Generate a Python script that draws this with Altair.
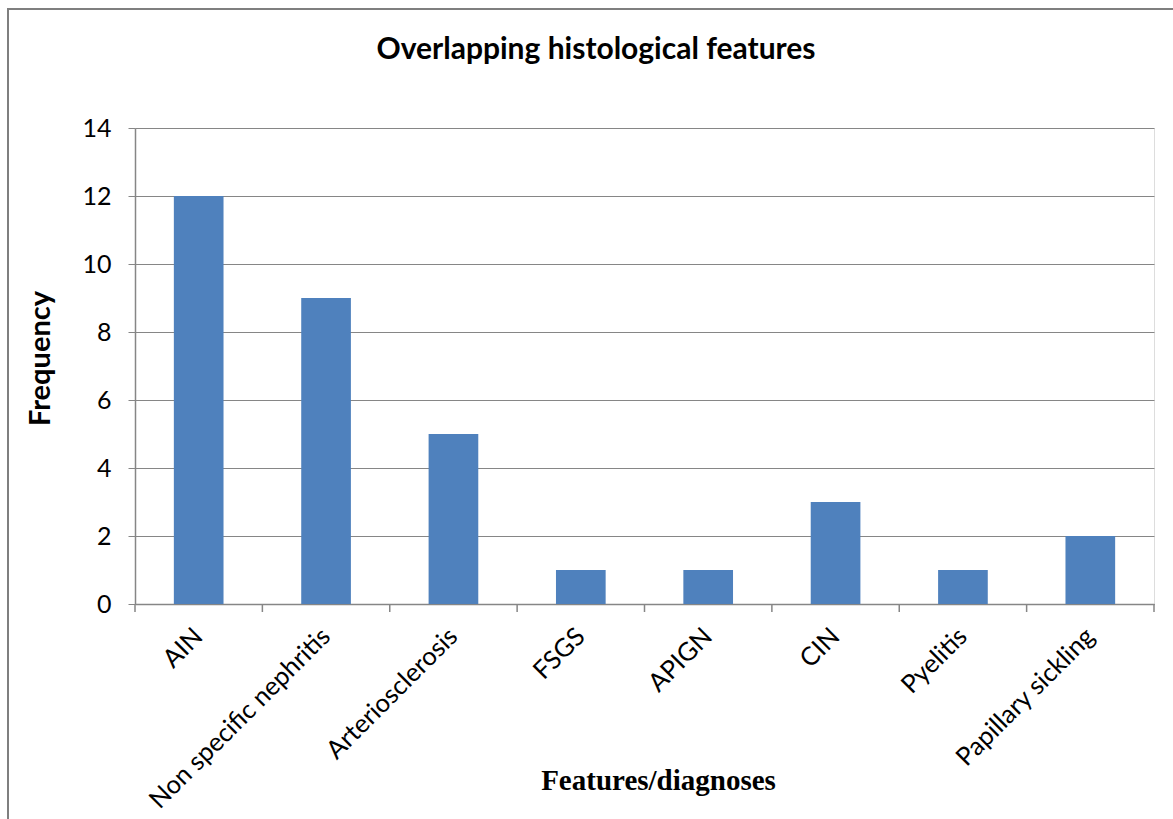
import altair as alt
import pandas as pd

categories = ["AIN", "Non specific nephritis", "Arteriosclerosis", "FSGS",
              "APIGN", "CIN", "Pyelitis", "Papillary sickling"]
frequency = [12, 9, 5, 1, 1, 3, 1, 2]
y_ticks = [0, 2, 4, 6, 8, 10, 12, 14]
chart_title = ["Overlapping histological features"]

GRAY = "#868686"
FONT = "Lato"

df = pd.DataFrame({"feature": categories, "freq": frequency})

xscale = alt.Scale(domain=categories, paddingInner=0, paddingOuter=0)
yscale = alt.Scale(domain=[0, 14], nice=False)

bars = alt.Chart(df).mark_bar(color="#4F81BD", width=alt.RelativeBandSize(0.39)).encode(
    x=alt.X("feature:N", scale=xscale, sort=categories,
            axis=alt.Axis(labelAngle=-45, labelFontSize=25.5, labelFont=FONT, labelColor="black",
                          labelLimit=0, labelOverlap=False,
                          ticks=False, domain=True, domainColor=GRAY, domainWidth=1.5,
                          labelPadding=28, labelAlign="right", labelBaseline="middle",
                          title="Features/diagnoses", titleFont="Liberation Serif",
                          titleFontSize=29, titleFontWeight="bold", titleColor="black",
                          titleX=523, titleY=176, titleAlign="center", titleBaseline="middle",
                          grid=False)),
    y=alt.Y("freq:Q", scale=yscale,
            axis=alt.Axis(values=y_ticks, labelFontSize=25, labelFont=FONT, labelColor="black",
                          tickSize=7, tickColor=GRAY, domainColor=GRAY, domainWidth=1.5,
                          gridColor=GRAY, gridWidth=1, labelPadding=17,
                          title="Frequency", titleFont=FONT, titleFontSize=29,
                          titleFontWeight="bold", titleColor="black", titleAngle=-90,
                          titleX=-95, titleY=230, titleAlign="center", titleBaseline="middle")),
)

ticks_start = alt.Chart(df).mark_rule(color=GRAY, strokeWidth=1.5).encode(
    x=alt.X("feature:N", sort=categories, bandPosition=0),
    y=alt.value(476), y2=alt.value(484),
)
ticks_end = alt.Chart(df).transform_filter(
    alt.datum.feature == categories[-1]
).mark_rule(color=GRAY, strokeWidth=1.5).encode(
    x=alt.X("feature:N", sort=categories, bandPosition=1),
    y=alt.value(476), y2=alt.value(484),
)

title = alt.Chart(pd.DataFrame({"t": chart_title})).mark_text(
    font=FONT, fontSize=30, fontWeight="bold", color="black", align="center", baseline="middle"
).encode(text="t:N", x=alt.value(461), y=alt.value(-78))

frame = alt.Chart(pd.DataFrame({"a": [1]})).mark_rect(
    fillOpacity=0, stroke="#7f7f7f", strokeWidth=2
).encode(x=alt.value(-127), y=alt.value(-119), x2=alt.value(1200), y2=alt.value(800))

chart = alt.layer(frame, bars, ticks_start, ticks_end, title).properties(
    width=1019, height=476,
    autosize=alt.AutoSizeParams(type="none"),
    padding={"left": 135, "top": 128, "right": 19, "bottom": 215},
).configure_view(stroke=None).configure(background="white")

chart.save("out.html", embed_options={"renderer": "svg", "actions": False})
